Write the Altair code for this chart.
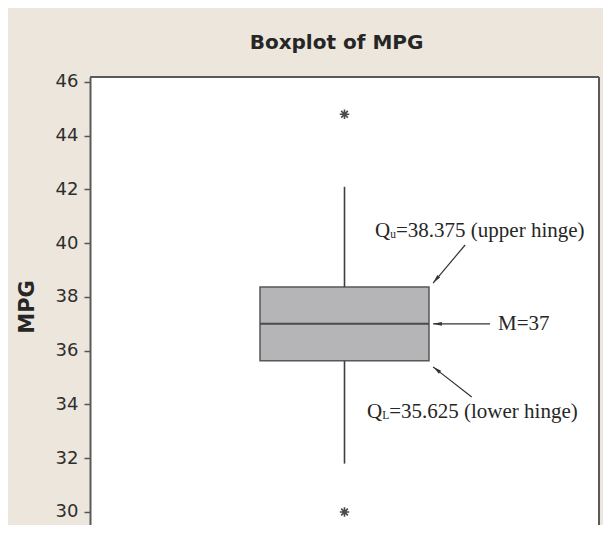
import altair as alt
import pandas as pd

# ---- data ----
stat_names = ["Lower whisker", "Q1 (lower hinge)", "Median", "Q3 (upper hinge)", "Upper whisker"]
stat_values = [31.8, 35.625, 37.0, 38.375, 42.1]
outlier_values = [44.8, 30.0]
y_tick_values = [30, 32, 34, 36, 38, 40, 42, 44, 46]

upper_label_parts = ["Q", "u", "=38.375 (upper hinge)"]
median_label = "M=37"
lower_label_parts = ["Q", "L", "=35.625 (lower hinge)"]

# ---- layout constants (x is a unitless 0..1 position axis) ----
W, H = 509, 448
BOX_X0, BOX_X1, CENTER = 0.334, 0.666, 0.5
X_SCALE = alt.Scale(domain=[0, 1], nice=False, zero=False)
Y_SCALE = alt.Scale(domain=[29.516, 46.186], nice=False, zero=False)
FRAME = "#5a5a5a"

lw, q1, med, q3, uw = stat_values

y_axis = alt.Axis(
    values=y_tick_values, grid=False, domain=True, domainColor=FRAME, domainWidth=2,
    tickSize=6, tickColor="#555555", tickWidth=1.5,
    labelFont="DejaVu Sans", labelFontSize=18, labelColor="#2e2e2e", labelPadding=6,
    titleFont="DejaVu Sans", titleFontSize=21, titleFontWeight="bold", titleColor="#262626",
    titleX=-63, titleY=229.5, titleAlign="center", titleBaseline="middle", titleAngle=270,
)


def X(field):
    return alt.X(field, type="quantitative", scale=X_SCALE, axis=None)


def Y(field):
    return alt.Y(field, type="quantitative", scale=Y_SCALE, axis=y_axis, title="MPG")


box_df = pd.DataFrame({"x0": [BOX_X0], "x1": [BOX_X1], "q1": [q1], "q3": [q3]})
median_df = pd.DataFrame({"x0": [BOX_X0], "x1": [BOX_X1], "y": [med]})
whisker_df = pd.DataFrame({"x": [CENTER, CENTER], "y": [q3, q1], "y2": [uw, lw]})
outlier_df = pd.DataFrame({"x": [CENTER] * len(outlier_values), "y": outlier_values})

box = alt.Chart(box_df).mark_rect(fill="#b5b5b8", stroke="#575757", strokeWidth=1.5).encode(
    x=X("x0"), x2="x1:Q", y=Y("q1"), y2="q3:Q")
whiskers = alt.Chart(whisker_df).mark_rule(color="#3f3f3f", strokeWidth=1.6).encode(
    x=X("x"), y=Y("y"), y2="y2:Q")
median = alt.Chart(median_df).mark_rule(color="#4a4a4a", strokeWidth=2).encode(
    x=X("x0"), x2="x1:Q", y=Y("y"))

ASTERISK = "M-1,0L1,0M0,-1L0,1M-0.7,-0.7L0.7,0.7M-0.7,0.7L0.7,-0.7"
outliers = alt.Chart(outlier_df).mark_point(
    shape=ASTERISK, size=90, filled=False, stroke="#4a4a4a", strokeWidth=1.6, opacity=1
).encode(x=X("x"), y=Y("y"))

# plot frame: top and right edges (left edge is the axis line, bottom runs off the page)
frame_top = alt.Chart(box_df).mark_rule(color=FRAME, strokeWidth=2).encode(
    x=alt.value(0), x2=alt.value(W), y=alt.value(0))
frame_right = alt.Chart(box_df).mark_rule(color=FRAME, strokeWidth=2).encode(
    x=alt.value(W), y=alt.value(0), y2=alt.value(H))

# ---- annotations ----
arrow_df = pd.DataFrame({
    "xt": [0.737, 0.786, 0.750], "yt": [39.935, 37.0, 34.28],
    "xh": [0.674, 0.674, 0.674], "yh": [38.52, 37.0, 35.40],
    "angle": [220, 270, 307.6],
})
HEAD = "M0,0L-0.45,2.2L0.45,2.2Z"
arrow_lines = alt.Chart(arrow_df).mark_rule(color="#333333", strokeWidth=1.2).encode(
    x=X("xt"), y=Y("yt"), x2="xh:Q", y2="yh:Q")
arrow_heads = alt.Chart(arrow_df).mark_point(
    shape=HEAD, filled=True, fill="#333333", strokeWidth=0, size=64, opacity=1
).encode(x=X("xh"), y=Y("yh"), angle=alt.Angle("angle:Q", scale=None))

main_text_df = pd.DataFrame({
    "x": [0.5599, 0.6012, 0.8016, 0.5442, 0.5878],
    "y": [40.456, 40.456, 37.0, 33.721, 33.721],
    "t": [upper_label_parts[0], upper_label_parts[2], median_label,
          lower_label_parts[0], lower_label_parts[2]],
})
sub_text_df = pd.DataFrame({
    "x": [0.5898, 0.5741], "y": [40.456, 33.721],
    "t": [upper_label_parts[1], lower_label_parts[1]],
})
main_text = alt.Chart(main_text_df).mark_text(
    font="Liberation Serif", fontSize=21, color="#262626", align="left", baseline="middle"
).encode(x=X("x"), y=Y("y"), text="t:N")
sub_text = alt.Chart(sub_text_df).mark_text(
    font="Liberation Serif", fontSize=11.5, color="#262626", align="left", baseline="middle", dy=4
).encode(x=X("x"), y=Y("y"), text="t:N")

chart = alt.layer(
    box, whiskers, median, outliers, frame_top, frame_right,
    arrow_lines, arrow_heads, main_text, sub_text
).properties(
    width=W, height=H,
    title=alt.TitleParams("Boxplot of MPG", font="DejaVu Sans", fontSize=20, fontWeight="bold",
                          color="#262626", anchor="middle", frame="group", offset=20, dx=-8),
    autosize=alt.AutoSizeParams(type="none"),
    padding={"left": 82, "top": 69, "right": 4, "bottom": 0},
    background="#ece6dd",
).configure_view(fill="white", stroke=None)

chart.save("out.html", embed_options={"renderer": "svg", "actions": False})
